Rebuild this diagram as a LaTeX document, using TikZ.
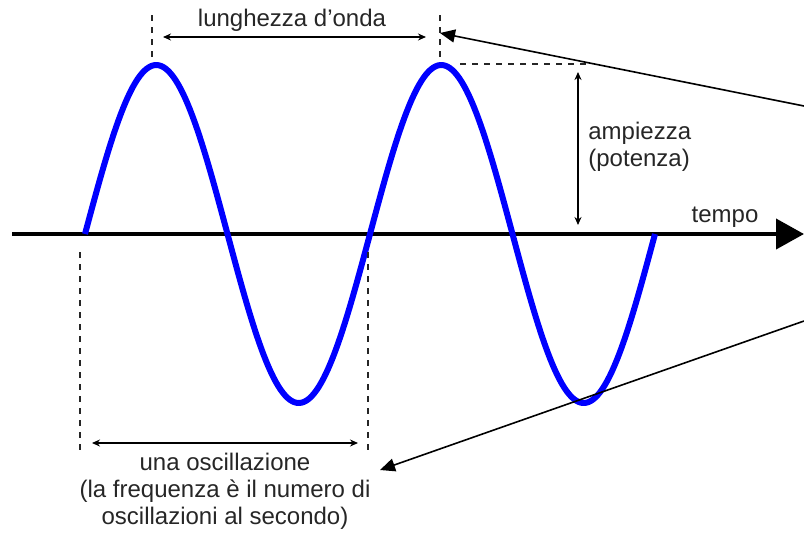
\documentclass[tikz,border=0pt]{standalone}
\usepackage{fontspec}
\setmainfont{Liberation Sans}
\usetikzlibrary{arrows.meta}

\begin{document}
\begin{tikzpicture}[
  x=0.5pt,y=-0.5pt,
  font=\fontsize{12}{13.6}\selectfont,
  lbl/.style={text=black!85,inner sep=0pt,align=center},
  wave/.style={draw=blue,line width=3pt,line join=round},
  axis/.style={line width=2pt,-{Triangle[length=14pt,width=15pt]}},
  guide/.style={line width=0.75pt,draw=black!85,dash pattern=on 3pt off 3pt},
  dim/.style={line width=0.8pt,{Stealth[length=4pt,width=3.5pt]}-{Stealth[length=4pt,width=3.5pt]}},
  pointer/.style={line width=0.8pt,-{Triangle[length=7.5pt,width=6.5pt]}}
]
\useasboundingbox (0,0) rectangle (804,532);

% time axis
\coordinate (t0) at (12,234);
\coordinate (t1) at (804,234);
\draw[axis] (t0) -- (t1);
\node[lbl] (tempo) at (725,217) {tempo};

% the wave, two periods
\draw[wave] plot[domain=85:655,samples=240] (\x,{234-169*sin(1.26316*(\x-85))});

% wavelength
\draw[guide] (152,15) -- (152,58);
\draw[guide] (440,15) -- (440,62);
\coordinate (wl0) at (163,37);
\coordinate (wl1) at (426,37);
\draw[dim] (wl0) -- (wl1);
\node[lbl] (wavelen) at (292,20) {lunghezza d’onda};

% amplitude
\draw[guide] (460,64) -- (592,64);
\coordinate (am0) at (578,72);
\coordinate (am1) at (578,225);
\draw[dim] (am0) -- (am1);
\node[lbl,anchor=west,align=left] (ampl) at (588,147) {ampiezza\\(potenza)};

% one oscillation
\draw[guide] (80,252) -- (80,450);
\draw[guide] (368,252) -- (368,455);
\coordinate (os0) at (92,443);
\coordinate (os1) at (358,443);
\draw[dim] (os0) -- (os1);
\node[lbl] (osc) at (225,491)
  {una oscillazione\\(la frequenza è il numero di\\oscillazioni al secondo)};

% pointers from the right
\coordinate (srcA) at (804,106);
\coordinate (tipA) at (440,33);
\coordinate (srcB) at (804,321);
\coordinate (tipB) at (380,470);
\draw[pointer] (srcA) -- (tipA);
\draw[pointer] (srcB) -- (tipB);

\end{tikzpicture}
\end{document}
